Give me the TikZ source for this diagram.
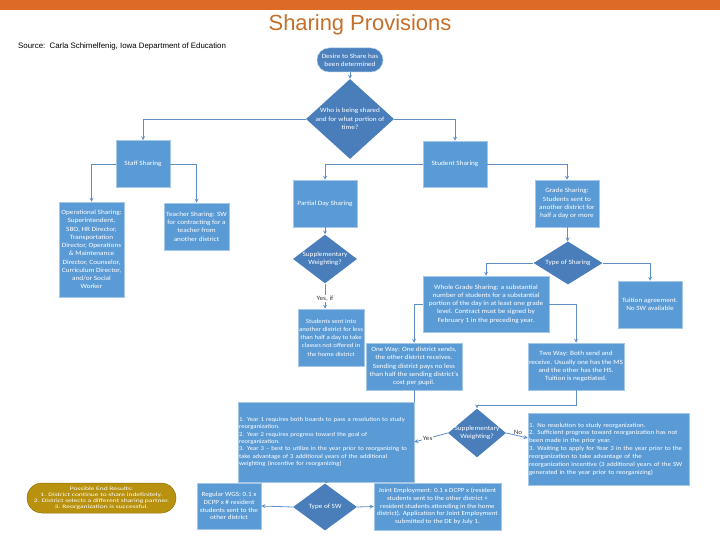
\documentclass[tikz,border=0pt]{standalone}
\usepackage{fontspec}
\setmainfont{Carlito}[FakeStretch=1.12]
\newfontfamily\arialfont{Liberation Sans}
\newfontfamily\widefont{Carlito}[FakeStretch=1.45]
\usetikzlibrary{shapes.geometric}
\definecolor{bandorange}{HTML}{DD6A27}
\definecolor{titleorange}{HTML}{C46F2A}
\definecolor{boxblue}{HTML}{5B9BD5}
\definecolor{diablue}{HTML}{4A7EBB}
\definecolor{linkblue}{HTML}{5F8FC4}
\definecolor{endgold}{HTML}{B8910F}

\begin{document}
\begin{tikzpicture}[
        x=1bp, y=-1bp,
        box/.style={rectangle, draw=boxblue!55!white, line width=0.5pt, fill=boxblue, text=white, align=center, inner sep=1pt, font=\fontsize{6.5}{8.3}\selectfont},
        listbox/.style={box, align=left, font=\fontsize{6}{7.4}\selectfont},
        decision/.style={diamond, fill=diablue, text=white, align=center, inner sep=-2.5pt, font=\fontsize{6.5}{8.3}\selectfont},
        terminal/.style={rectangle, rounded corners=12bp, fill=diablue!90!boxblue, draw=boxblue!55!white, line width=0.5pt, text=white, align=center, inner sep=1pt, font=\fontsize{6.5}{8.3}\selectfont},
        lbl/.style={text=black!75, inner sep=1pt, font=\fontsize{6.5}{7}\selectfont},
        line/.style={draw=linkblue, line width=0.8pt},
        arrow/.style={line, ->, >=stealth}
    ]
        \useasboundingbox (0,0) rectangle (720,540);
        \fill[bandorange] (0,0) rectangle (720,10);
        \node[text=titleorange, font=\arialfont\fontsize{22}{24}\selectfont] (title) at (360,25) {Sharing Provisions};
        \node[anchor=west, inner sep=0pt, font=\arialfont\fontsize{7.9}{8}\selectfont] (source) at (18,46) {Source:\ \ Carla Schimelfenig, Iowa Department of Education};

        % top of the chart
        \node[terminal, minimum width=66bp, minimum height=24bp] (start) at (350,60) {Desire to Share has\\been determined};
        \node[decision, minimum width=88bp, minimum height=75bp] (who) at (350,119) {Who is being shared\\and for what portion of\\time?};
        \node[box, minimum width=54bp, minimum height=47bp] (staff) at (143,164) {Staff Sharing};
        \node[box, minimum width=64bp, minimum height=46bp] (student) at (455,164) {Student Sharing};

        % staff side
        \node[box, minimum width=65bp, minimum height=95bp] (oper) at (91.5,249.5) {Operational Sharing:\\Superintendent,\\SBO, HR Director,\\Transportation\\Director, Operations\\\& Maintenance\\Director, Counselor,\\Curriculum Director,\\and/or Social\\Worker};
        \node[box, minimum width=65bp, minimum height=47bp] (teacher) at (196.5,226.5) {Teacher Sharing: SW\\for contracting for a\\teacher from\\another district};

        % partial day
        \node[box, minimum width=64bp, minimum height=47bp] (partial) at (325,203.5) {Partial Day Sharing};
        \node[decision, minimum width=64bp, minimum height=41bp] (supp1) at (325,259) {Supplementary\\Weighting?};
        \node[box, minimum width=64bp, minimum height=57bp, font=\fontsize{6.1}{8.3}\selectfont] (sent) at (331,337.5) {Students sent into\\another district for less\\than half a day to take\\classes not offered in\\the home district};

        % grade sharing
        \node[box, minimum width=64bp, minimum height=47bp] (grade) at (567,203.5) {Grade Sharing:\\Students sent to\\another district for\\half a day or more};
        \node[decision, minimum width=69bp, minimum height=43bp] (kind) at (568,263) {Type of Sharing};
        \node[box, minimum width=126bp, minimum height=56bp] (whole) at (486,304) {Whole Grade Sharing: a substantial\\number of students for a substantial\\portion of the day in at least one grade\\level. Contract must be signed by\\February 1 in the preceding year.};
        \node[box, minimum width=64bp, minimum height=47bp] (tuition) at (650,304.5) {Tuition agreement.\\No SW available};
        \node[box, minimum width=96bp, minimum height=47bp] (oneway) at (414,366.5) {One Way: One district sends,\\the other district receives.\\Sending district pays no less\\than half the sending district's\\cost per pupil.};
        \node[box, minimum width=96bp, minimum height=47bp] (twoway) at (576,366.5) {Two Way: Both send and\\receive. Usually one has the MS\\and the other has the HS.\\Tuition is negotiated.};

        % weighting
        \node[decision, minimum width=58bp, minimum height=41bp] (supp2) at (477,433) {Supplementary\\Weighting?};
        \node[listbox, text width=174bp, minimum height=80bp] (years) at (326,442) {1. Year 1 requires both boards to pass a resolution to study\\reorganization.\\2. Year 2 requires progress toward the goal of\\reorganization.\\3. Year 3 -- best to utilize in the year prior to reorganizing to\\take advantage of 3 additional years of the additional\\weighting (incentive for reorganizing)\\[6bp]};
        \node[listbox, text width=159bp, minimum height=72bp, font=\fontsize{6.2}{7.9}\selectfont] (nosw) at (608.5,449) {1. No resolution to study reorganization.\\2. Sufficient progress toward reorganization has not\\been made in the prior year.\\3. Waiting to apply for Year 3 in the year prior to the\\reorganization to take advantage of the\\reorganization incentive (3 additional years of the SW\\generated in the year prior to reorganizing)};

        % type of SW
        \node[decision, minimum width=64bp, minimum height=47bp] (typesw) at (325,507) {Type of SW};
        \node[box, minimum width=64bp, minimum height=46bp, font=\fontsize{6.4}{7.8}\selectfont] (regular) at (229,506) {Regular WGS: 0.1 x\\DCPP x \# resident\\students sent to the\\other district};
        \node[box, minimum width=127bp, minimum height=47bp, font=\fontsize{6.3}{7.7}\selectfont] (joint) at (437.5,506.5) {Joint Employment: 0.1 x DCPP x (resident\\students sent to the other district +\\resident students attending in the home\\district). Application for Joint Employment\\submitted to the DE by July 1.};
        \node[terminal, rounded corners=15bp, fill=endgold, draw=endgold!80!black, minimum width=149bp, minimum height=30bp, font=\widefont\fontsize{5.2}{5.8}\selectfont] (ends) at (101.5,498) {Possible End Results:\\1. District continue to share indefinitely.\\2. District selects a different sharing partner.\\3. Reorganization is successful.};

        \draw[arrow] (start) -- (who);
        \draw[arrow] (who.west) -| (staff.north);
        \draw[arrow] (who.east) -| (student.north);
        \draw[arrow] (staff.west) -| (oper.north);
        \draw[arrow] (staff.east) -| (teacher.north);
        \draw[arrow] (student.west) -| (partial.north);
        \draw[arrow] (student.east) -| (grade.north);
        \draw[arrow] (partial) -- (supp1);
        \draw[arrow] (supp1.south) -- node[lbl, fill=white, pos=0.6] {Yes, if} (supp1.south |- sent.north);
        \draw[arrow] (grade) -- (kind);
        \draw[arrow] (kind.west) -| (whole.north);
        \draw[arrow] (kind.east) -| (tuition.north);
        \draw[arrow] (whole.west) -| (oneway.north);
        \draw[arrow] (whole.east) -| (twoway.north);
        \draw[line] (oneway.south) -- (oneway.south |- years.north);
        \draw[arrow] (twoway.south) -- ++(0,15) -| (supp2.north);
        \draw[arrow] (supp2.west) -- node[lbl, fill=white, pos=0.6] {Yes} (years.east);
        \draw[arrow] (supp2.east) -- node[lbl, above, pos=0.55] {No} ([yshift=11bp]nosw.west);
        \draw[arrow] (years.south) -- (typesw.north);
        \draw[arrow] (typesw.west) -- (regular.east);
        \draw[arrow] (typesw.east) -- (joint.west);
    \end{tikzpicture}
\end{document}
